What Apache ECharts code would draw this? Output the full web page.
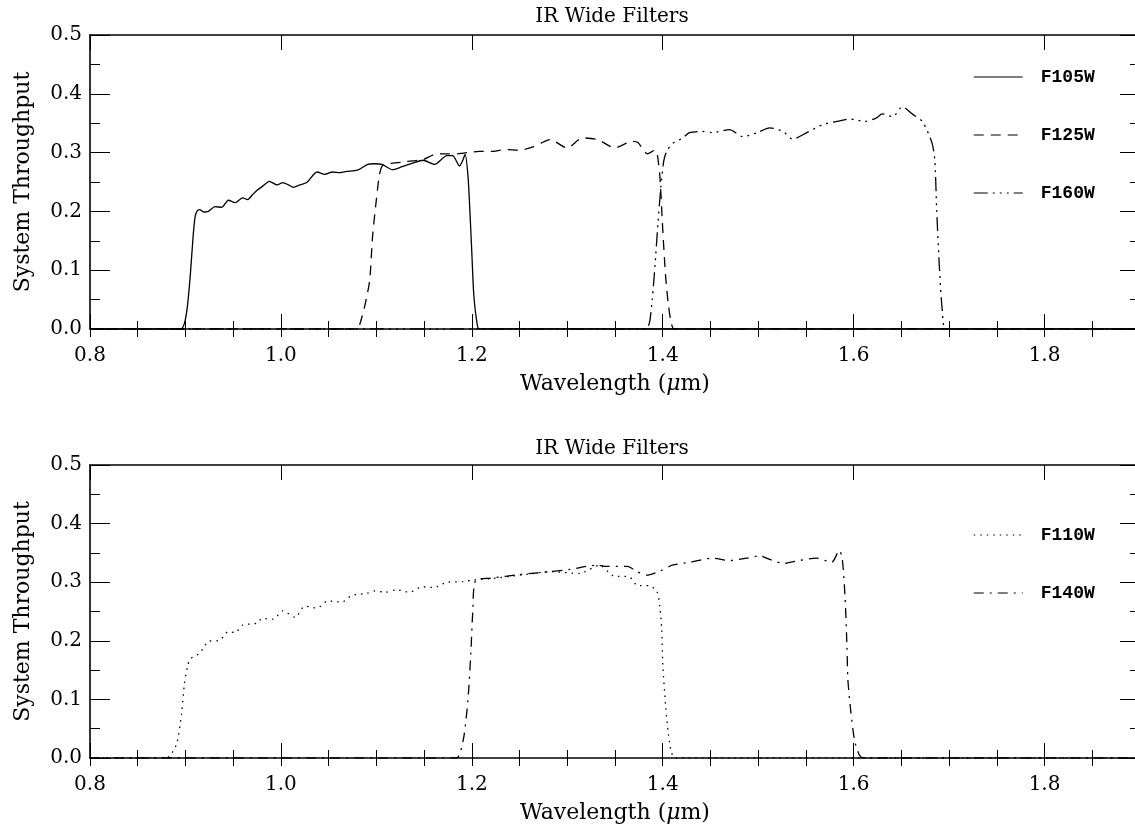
<!DOCTYPE html>
<html>
<head>
<meta charset="utf-8">
<script src="https://cdn.jsdelivr.net/npm/echarts@6/dist/echarts.min.js"></script>
<style>
html,body{margin:0;padding:0;background:#fff;}
#chart{width:1135px;height:827px;}
</style>
</head>
<body>
<div id="chart"></div>
<script>
// ---------------- DATA ----------------
const panelTitle = 'IR Wide Filters';
const xAxisName = 'Wavelength ({i|μ}m)';
const yAxisName = 'System Throughput';
const xTickLabels = ['0.8', '1.0', '1.2', '1.4', '1.6', '1.8'];
const yTickLabels = ['0.0', '0.1', '0.2', '0.3', '0.4', '0.5'];

// Top panel
const f105wWave = [0.80,0.895,0.899,0.902,0.905,0.908,0.910,0.912,0.915,0.919,0.924,0.931,0.938,0.945,0.952,0.960,0.965,0.970,0.975,0.981,0.988,0.996,1.002,1.008,1.013,1.020,1.027,1.038,1.046,1.054,1.062,1.069,1.080,1.091,1.098,1.106,1.117,1.127,1.138,1.149,1.161,1.174,1.180,1.184,1.187,1.190,1.193,1.196,1.198,1.200,1.202,1.205,1.208,1.90];
const f105wThru = [0,0,0.010,0.038,0.090,0.157,0.190,0.200,0.203,0.199,0.200,0.208,0.207,0.219,0.215,0.223,0.220,0.228,0.236,0.243,0.251,0.245,0.249,0.245,0.241,0.245,0.249,0.267,0.263,0.267,0.266,0.268,0.270,0.280,0.281,0.280,0.271,0.276,0.282,0.287,0.280,0.295,0.295,0.285,0.277,0.285,0.297,0.260,0.200,0.130,0.060,0.015,0,0];

const f125wWave = [0.80,1.080,1.083,1.088,1.093,1.096,1.100,1.103,1.106,1.111,1.117,1.128,1.138,1.149,1.161,1.174,1.185,1.200,1.208,1.220,1.235,1.250,1.265,1.275,1.282,1.300,1.316,1.332,1.350,1.368,1.374,1.384,1.392,1.394,1.397,1.400,1.403,1.406,1.409,1.412,1.90];
const f125wThru = [0,0,0.010,0.040,0.083,0.157,0.220,0.260,0.277,0.281,0.282,0.284,0.286,0.288,0.297,0.298,0.298,0.301,0.302,0.302,0.305,0.304,0.310,0.318,0.322,0.308,0.325,0.322,0.308,0.319,0.317,0.298,0.304,0.300,0.260,0.170,0.090,0.040,0.010,0,0];

const f160wWave = [0.80,1.382,1.386,1.389,1.392,1.395,1.398,1.401,1.404,1.410,1.421,1.428,1.441,1.452,1.470,1.484,1.499,1.512,1.526,1.536,1.551,1.568,1.583,1.596,1.612,1.624,1.630,1.641,1.651,1.662,1.672,1.682,1.685,1.687,1.690,1.693,1.697,1.90];
const f160wThru = [0,0,0.010,0.050,0.110,0.180,0.240,0.285,0.302,0.315,0.325,0.334,0.336,0.334,0.339,0.327,0.334,0.342,0.336,0.323,0.334,0.348,0.353,0.357,0.353,0.359,0.366,0.361,0.378,0.365,0.353,0.317,0.288,0.203,0.100,0.030,0,0];

// Bottom panel
const f110wWave = [0.80,0.880,0.884,0.891,0.896,0.899,0.902,0.905,0.915,0.924,0.936,0.945,0.952,0.960,0.975,0.980,0.992,1.002,1.015,1.025,1.038,1.049,1.064,1.074,1.090,1.098,1.109,1.121,1.135,1.148,1.161,1.174,1.191,1.203,1.220,1.240,1.260,1.282,1.313,1.334,1.348,1.365,1.374,1.386,1.394,1.397,1.399,1.400,1.403,1.406,1.409,1.413,1.90];
const f110wThru = [0,0,0.004,0.025,0.077,0.128,0.155,0.169,0.179,0.199,0.201,0.216,0.214,0.227,0.230,0.238,0.237,0.251,0.240,0.259,0.256,0.268,0.266,0.277,0.281,0.285,0.283,0.287,0.283,0.292,0.291,0.300,0.301,0.304,0.306,0.310,0.314,0.318,0.315,0.329,0.311,0.309,0.294,0.294,0.284,0.258,0.218,0.162,0.090,0.040,0.010,0,0];

const f140wWave = [0.80,1.184,1.188,1.192,1.196,1.199,1.201,1.204,1.220,1.250,1.282,1.303,1.331,1.342,1.363,1.373,1.383,1.397,1.410,1.428,1.452,1.470,1.488,1.502,1.512,1.526,1.543,1.561,1.577,1.585,1.588,1.591,1.593,1.594,1.597,1.601,1.606,1.610,1.90];
const f140wThru = [0,0,0.010,0.040,0.100,0.180,0.250,0.303,0.307,0.313,0.318,0.322,0.329,0.327,0.327,0.318,0.312,0.319,0.329,0.334,0.341,0.337,0.341,0.345,0.339,0.332,0.337,0.341,0.334,0.354,0.341,0.275,0.190,0.133,0.080,0.030,0.005,0,0];

// ---------------- CHART ----------------
const pair = (xs, ys) => xs.map((x, i) => [x, ys[i]]);
const BLACK = '#000';
const serif = 'DejaVu Serif';

const panels = [
  {top: 35, height: 294, titleY: 17, series: [
    {name: 'F105W', x: f105wWave, y: f105wThru, dash: 'solid'},
    {name: 'F125W', x: f125wWave, y: f125wThru, dash: [10, 7]},
    {name: 'F160W', x: f160wWave, y: f160wThru, dash: [14, 5, 2, 5, 2, 5, 2, 5]}
  ], legendTop: 63},
  {top: 465, height: 293, titleY: 449, series: [
    {name: 'F110W', x: f110wWave, y: f110wThru, dash: [1.5, 5]},
    {name: 'F140W', x: f140wWave, y: f140wThru, dash: [10, 6, 2, 6]}
  ], legendTop: 521}
];

const grids = [], xAxes = [], yAxes = [], series = [], legends = [], graphics = [];

panels.forEach((p, pi) => {
  const gridBase = {left: 90, width: 1050, top: p.top, height: p.height,
    outerBoundsMode: 'none', containLabel: false};
  const gMain = grids.length;
  grids.push(Object.assign({}, gridBase));
  const gMinor = grids.length;
  grids.push(Object.assign({}, gridBase));

  const xLabel = {
    show: true, margin: 17, fontFamily: serif, fontSize: 20, color: BLACK,
    formatter: v => { const i = Math.round((v - 0.8) / 0.2); return (Math.abs(v - (0.8 + i * 0.2)) < 1e-6 && xTickLabels[i]) ? xTickLabels[i] : ''; }
  };
  const yLabel = {
    show: true, margin: 8, fontFamily: serif, fontSize: 20, color: BLACK,
    formatter: v => yTickLabels[Math.round(v / 0.1)] || ''
  };
  const line = {show: true, onZero: false, lineStyle: {color: BLACK, width: 1.6}};
  const noLine = {show: false};
  const tick = len => ({show: true, inside: true, length: len, lineStyle: {color: BLACK, width: 1}});

  const xMainIdx = xAxes.length;
  xAxes.push({type: 'value', gridIndex: gMain, position: 'bottom', min: 0.8, max: 1.9, interval: 0.2,
    axisLine: line, axisTick: tick(15), axisLabel: xLabel, splitLine: {show: false},
    name: xAxisName, nameLocation: 'middle', nameGap: 44,
    nameTextStyle: {fontFamily: serif, fontSize: 22, color: BLACK,
      rich: {i: {fontFamily: serif, fontSize: 22, fontStyle: 'italic', color: BLACK}}}});
  xAxes.push({type: 'value', gridIndex: gMain, position: 'top', min: 0.8, max: 1.9, interval: 0.2,
    axisLine: line, axisTick: tick(15), axisLabel: {show: false}, splitLine: {show: false}});
  xAxes.push({type: 'value', gridIndex: gMinor, position: 'bottom', min: 0.8, max: 1.9, interval: 0.05,
    axisLine: noLine, axisTick: tick(8), axisLabel: {show: false}, splitLine: {show: false}});
  xAxes.push({type: 'value', gridIndex: gMinor, position: 'top', min: 0.8, max: 1.9, interval: 0.05,
    axisLine: noLine, axisTick: tick(8), axisLabel: {show: false}, splitLine: {show: false}});

  const yMainIdx = yAxes.length;
  yAxes.push({type: 'value', gridIndex: gMain, position: 'left', min: 0, max: 0.5, interval: 0.1,
    axisLine: line, axisTick: tick(20), axisLabel: yLabel, splitLine: {show: false},
    name: yAxisName, nameLocation: 'middle', nameGap: 56, nameRotate: 90,
    nameTextStyle: {fontFamily: serif, fontSize: 22, color: BLACK}});
  yAxes.push({type: 'value', gridIndex: gMain, position: 'right', min: 0, max: 0.5, interval: 0.1,
    axisLine: line, axisTick: tick(20), axisLabel: {show: false}, splitLine: {show: false}});
  yAxes.push({type: 'value', gridIndex: gMinor, position: 'left', min: 0, max: 0.5, interval: 0.05,
    axisLine: noLine, axisTick: tick(10), axisLabel: {show: false}, splitLine: {show: false}});
  yAxes.push({type: 'value', gridIndex: gMinor, position: 'right', min: 0, max: 0.5, interval: 0.05,
    axisLine: noLine, axisTick: tick(10), axisLabel: {show: false}, splitLine: {show: false}});

  p.series.forEach(s => {
    series.push({
      type: 'line', name: s.name, xAxisIndex: xMainIdx, yAxisIndex: yMainIdx,
      data: pair(s.x, s.y), symbol: 'none', showSymbol: false, smooth: 0.25,
      lineStyle: {color: BLACK, width: 1.3, type: s.dash}, itemStyle: {color: BLACK},
      silent: true, animation: false, clip: true
    });
  });

  legends.push({
    data: p.series.map(s => s.name), orient: 'vertical', left: 968, top: p.legendTop,
    itemWidth: 49, itemHeight: 14, itemGap: 40, selectedMode: false,
    itemStyle: {opacity: 0},
    lineStyle: {color: '#555', width: 1.5},
    textStyle: {fontFamily: 'Liberation Mono', fontWeight: 'bold', fontSize: 18, color: BLACK, padding: [0, 0, 0, 13]}
  });

  graphics.push({type: 'text', x: 612, y: p.titleY, silent: true,
    style: {text: panelTitle, fill: BLACK, font: '20px "DejaVu Serif"', textAlign: 'center', textVerticalAlign: 'middle'}});
});

const chart = echarts.init(document.getElementById('chart'), null, {renderer: 'canvas'});
chart.setOption({
  animation: false,
  backgroundColor: '#fff',
  grid: grids, xAxis: xAxes, yAxis: yAxes, series: series, legend: legends, graphic: graphics
});
</script>
</body>
</html>
